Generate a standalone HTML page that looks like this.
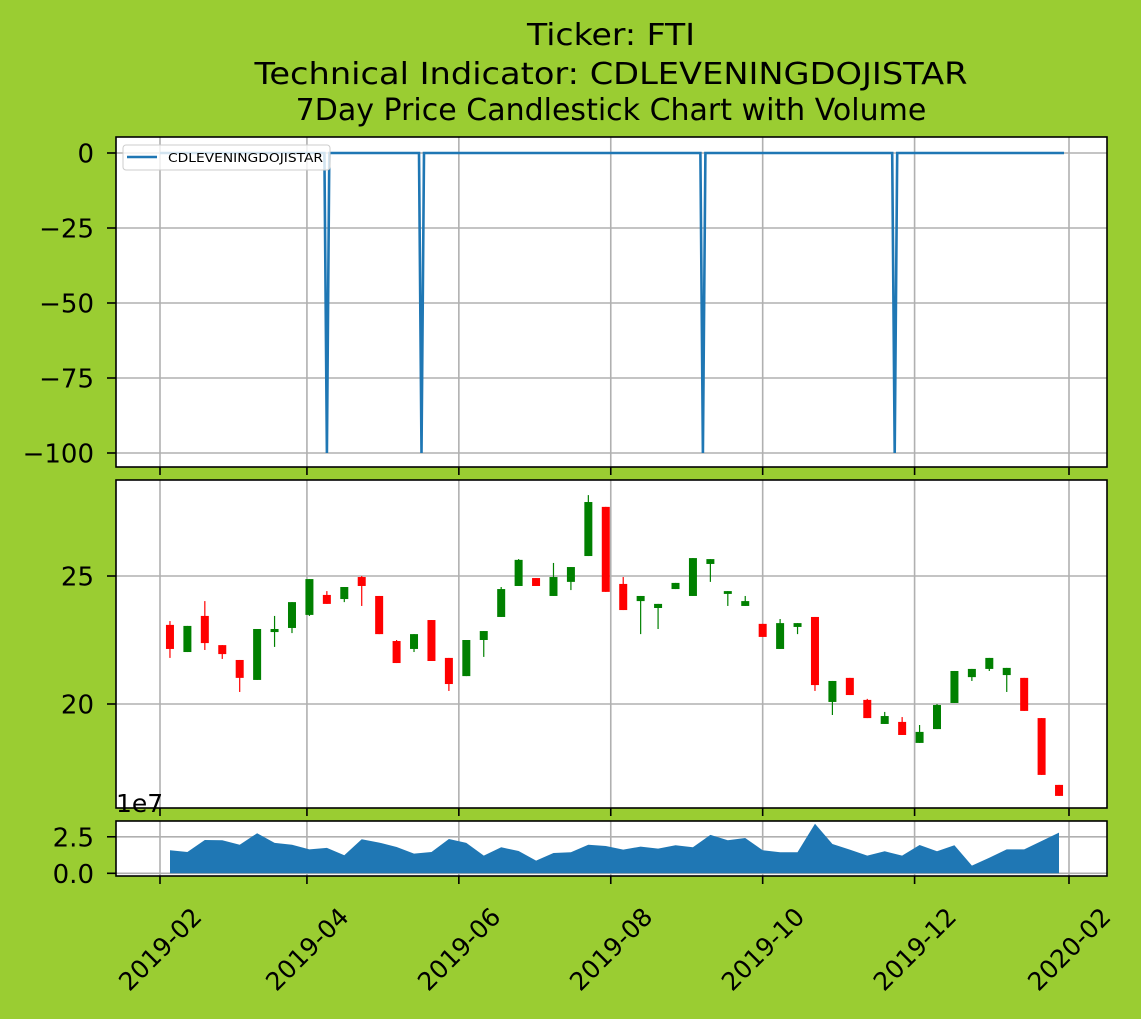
<!DOCTYPE html>
<html><head><meta charset="utf-8"><style>
html,body{margin:0;padding:0;background:#9acd32;}
svg{display:block;font-family:"DejaVu Sans","Liberation Sans",sans-serif;}
</style></head><body>
<svg id="chart" width="1141" height="1019" xmlns="http://www.w3.org/2000/svg">
<rect x="0" y="0" width="1141" height="1019" fill="#9acd32"/>
<g font-size="30" text-anchor="middle" fill="#000">
<text x="611" y="45" textLength="168" lengthAdjust="spacingAndGlyphs">Ticker: FTI</text>
<text x="611" y="84" textLength="713" lengthAdjust="spacingAndGlyphs">Technical Indicator: CDLEVENINGDOJISTAR</text>
<text x="611" y="120">7Day Price Candlestick Chart with Volume</text>
</g>
</svg>
<script>
const candleDates=["2019-02-05","2019-02-12","2019-02-19","2019-02-26","2019-03-05","2019-03-12","2019-03-19","2019-03-26","2019-04-02","2019-04-09","2019-04-16","2019-04-23","2019-04-30","2019-05-07","2019-05-14","2019-05-21","2019-05-28","2019-06-04","2019-06-11","2019-06-18","2019-06-25","2019-07-02","2019-07-09","2019-07-16","2019-07-23","2019-07-30","2019-08-06","2019-08-13","2019-08-20","2019-08-27","2019-09-03","2019-09-10","2019-09-17","2019-09-24","2019-10-01","2019-10-08","2019-10-15","2019-10-22","2019-10-29","2019-11-05","2019-11-12","2019-11-19","2019-11-26","2019-12-03","2019-12-10","2019-12-17","2019-12-24","2019-12-31","2020-01-07","2020-01-14","2020-01-21","2020-01-28"];
const opens=[23.09,22.03,23.44,22.30,21.72,20.94,22.81,22.97,23.48,24.26,24.10,24.96,24.22,22.46,22.15,23.28,21.80,21.09,22.50,23.40,24.61,24.92,24.22,24.77,25.78,27.70,24.69,24.02,23.75,24.49,24.22,25.47,24.30,23.83,23.13,22.15,23.01,23.40,20.08,21.02,20.16,19.22,19.30,18.48,19.02,20.04,21.05,21.37,21.13,21.02,19.45,16.84];
const closes=[22.15,23.05,22.38,21.95,21.02,22.93,22.93,23.98,24.88,23.91,24.57,24.61,22.73,21.60,22.73,21.68,20.78,22.50,22.85,24.49,25.63,24.61,24.96,25.35,27.89,24.38,23.67,24.22,23.91,24.73,25.70,25.66,24.41,24.02,22.62,23.16,23.16,20.74,20.90,20.35,19.45,19.53,18.79,18.91,19.96,21.29,21.37,21.80,21.41,19.73,17.23,16.41];
const highs=[23.24,23.05,24.02,22.30,21.72,22.93,23.44,23.98,24.88,24.41,24.57,25.00,24.22,22.50,22.73,23.28,21.80,22.50,22.85,24.57,25.66,24.92,25.51,25.35,28.16,27.70,24.96,24.22,23.91,24.73,25.70,25.66,24.41,24.22,23.13,23.32,23.16,23.40,20.90,21.02,20.20,19.69,19.49,19.18,20.00,21.29,21.37,21.80,21.41,21.02,19.45,16.84];
const lows=[21.80,22.03,22.11,21.76,20.47,20.94,22.23,22.77,23.44,23.91,23.98,23.83,22.73,21.60,22.03,21.68,20.51,21.09,21.84,23.40,24.61,24.61,24.22,24.45,25.78,24.38,23.67,22.73,22.93,24.49,24.22,24.77,23.83,23.83,22.62,22.15,22.73,20.51,19.57,20.35,19.45,19.22,18.79,18.48,19.02,20.04,20.90,21.29,20.47,19.73,17.23,16.41];
const volumes=[1.58,1.46,2.28,2.26,1.96,2.74,2.08,1.96,1.64,1.74,1.23,2.33,2.10,1.80,1.35,1.46,2.35,2.08,1.21,1.78,1.53,0.87,1.39,1.44,1.96,1.87,1.62,1.83,1.69,1.92,1.78,2.63,2.26,2.42,1.58,1.44,1.44,3.40,2.01,1.62,1.21,1.51,1.21,1.94,1.51,1.92,0.53,1.07,1.64,1.64,2.21,2.79];
const indDates=["2019-02-01","2019-04-08","2019-04-09","2019-04-10","2019-05-16","2019-05-17","2019-05-18","2019-09-06","2019-09-07","2019-09-08","2019-11-22","2019-11-23","2019-11-24","2020-01-30"];
const indVals=[0,0,-100,0,0,-100,0,0,-100,0,0,-100,0,0];
const xTickLabels=["2019-02","2019-04","2019-06","2019-08","2019-10","2019-12","2020-02"];
const topTicks=[0,-25,-50,-75,-100];
const midTicks=[25,20];
const volTicks=[0,2.5];

const NS="http://www.w3.org/2000/svg";
const svg=document.getElementById('chart');
const L=116,R=1107;
const base=Date.UTC(2019,1,1);
function day(s){const p=s.split('-');return (Date.UTC(+p[0],+p[1]-1,+p[2])-base)/86400000;}
function X(s){return 160+day(s)*2.4904;}
const panels={
 top:{t:137,b:467,y:v=>153-v*3.0},
 mid:{t:480,b:808,y:v=>576-(v-25)*25.6},
 vol:{t:821,b:876,y:v=>873.3-v*14.6}
};
function el(tag,attrs,parent){const e=document.createElementNS(NS,tag);for(const k in attrs)e.setAttribute(k,attrs[k]);(parent||svg).appendChild(e);return e;}
function fmt(v){return (v<0?'\u2212':'')+Math.abs(v);}

for(const key of ['top','mid','vol']){
 const p=panels[key];
 const g=el('g',{});
 
 
 el('rect',{x:L,y:p.t,width:R-L,height:p.b-p.t,fill:'#fff'},g);
 for(const lab of xTickLabels){
  const x=X(lab+'-01');
  el('line',{x1:x,x2:x,y1:p.t,y2:p.b,stroke:'#b0b0b0','stroke-width':1.6},g);
  el('line',{x1:x,x2:x,y1:p.b,y2:p.b+8,stroke:'#000','stroke-width':1.6},g);
 }
 const ticks=key==='top'?topTicks:key==='mid'?midTicks:volTicks;
 for(const v of ticks){
  const y=p.y(v);
  el('line',{x1:L,x2:R,y1:y,y2:y,stroke:'#b0b0b0','stroke-width':1.6},g);
  el('line',{x1:L-9,x2:L,y1:y,y2:y,stroke:'#000','stroke-width':1.6},g);
  const t=el('text',{x:L-22,y:y+9.5,'text-anchor':'end','font-size':26,fill:'#000'},g);
  t.textContent=key==='vol'?v.toFixed(1):fmt(v);
  
  
 }
 p.g=g;
}
// indicator line
{
 const p=panels.top;
 const pts=indDates.map((d,i)=>X(d).toFixed(1)+','+p.y(indVals[i]).toFixed(1)).join(' ');
 const pl=el('polyline',{points:pts,fill:'none',stroke:'#1f77b4','stroke-width':2.6},p.g);
 
 
 const lg=el('g',{},p.g);
 
 
 el('rect',{x:123,y:145,width:207,height:25,rx:3,fill:'#fff','fill-opacity':0.8,stroke:'#ccc'},lg);
 el('line',{x1:127,x2:157,y1:157,y2:157,stroke:'#1f77b4','stroke-width':2.6},lg);
 const lt=el('text',{x:168,y:162,'font-size':12.5,fill:'#000',textLength:155,lengthAdjust:'spacingAndGlyphs'},lg);
 lt.textContent='CDLEVENINGDOJISTAR';
}
// candles
{
 const p=panels.mid;
 candleDates.forEach((d,i)=>{
  const x=X(d);
  const up=closes[i]>=opens[i];
  const c=up?'#008000':'#ff0000';
  const cg=el('g',{},p.g);
  
  
  el('line',{x1:x,x2:x,y1:p.y(highs[i]),y2:p.y(lows[i]),stroke:c,'stroke-width':1.2},cg);
  const y1=p.y(Math.max(opens[i],closes[i])),y2=p.y(Math.min(opens[i],closes[i]));
  el('rect',{x:x-4,y:y1,width:8,height:Math.max(1,y2-y1),fill:c},cg);
 });
}
// volume
{
 const p=panels.vol;
 let pts=X(candleDates[0]).toFixed(1)+','+p.y(0);
 candleDates.forEach((d,i)=>{pts+=' '+X(d).toFixed(1)+','+p.y(volumes[i]).toFixed(1);});
 pts+=' '+X(candleDates[candleDates.length-1]).toFixed(1)+','+p.y(0);
 const pg=el('polygon',{points:pts,fill:'#1f77b4'},p.g);
 
 
 const e=el('text',{x:116,y:812,'font-size':25,fill:'#000'});
 e.textContent='1e7';
 
 
}
// frames + x labels
for(const key of ['top','mid','vol']){
 const p=panels[key];
 el('rect',{x:L,y:p.t,width:R-L,height:p.b-p.t,fill:'none',stroke:'#000','stroke-width':1.6},p.g);
}
for(const lab of xTickLabels){
 const x=X(lab+'-01');
 const t=el('text',{x:0,y:9,'text-anchor':'middle','font-size':25,fill:'#000',transform:`translate(${x},${949}) rotate(-45)`});
 t.textContent=lab;
 
 
}
</script>
</body></html>
